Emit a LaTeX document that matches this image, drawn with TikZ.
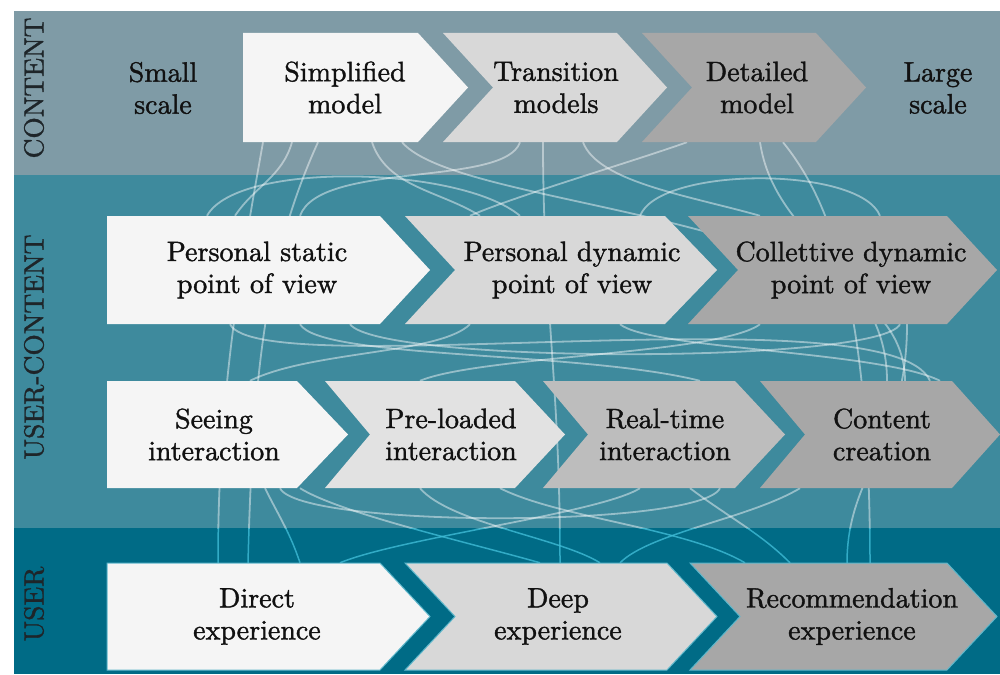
\documentclass[tikz,border=0pt]{standalone}
\usepackage{fontspec}
\newfontfamily\heavy{lmroman10-regular.otf}[FakeBold=1.3]
\pgfdeclarelayer{bandlayer}
\pgfdeclarelayer{curvelayer}
\pgfsetlayers{bandlayer,curvelayer,main}
\definecolor{bandA}{HTML}{7F9BA6}
\definecolor{bandB}{HTML}{3E8A9D}
\definecolor{bandC}{HTML}{006B86}
\definecolor{gA}{HTML}{F5F5F5}
\definecolor{gB}{HTML}{D8D8D8}
\definecolor{gC}{HTML}{E2E2E2}
\definecolor{gD}{HTML}{BDBDBD}
\definecolor{gE}{HTML}{A7A7A7}
\definecolor{txtc}{HTML}{111111}
\definecolor{sidec}{HTML}{1E2529}
\definecolor{cyanline}{HTML}{3FBCD6}
\definecolor{rimc}{HTML}{5DB6CA}
\tikzset{
  lbl/.style={text=txtc, align=center, font=\heavy\fontsize{28}{32}\selectfont, inner sep=0pt, minimum height=#1},
  lbl/.default=108pt,
  sidelbl/.style={rotate=90, text=sidec, font=\heavy\fontsize{27.5}{32}\selectfont, inner sep=0pt},
  curvew/.style={draw=white, draw opacity=0.45, line width=1.8pt},
  curvec/.style={draw=cyanline, draw opacity=0.8, line width=1.5pt},
  rim/.style={draw=rimc, line width=1pt}
}
\newcommand{\curveset}[1]{%
  \draw[#1] ([xshift=-82pt]simp.south) .. controls +(-25,140) and +(0,-160) .. ([xshift=-39pt]direct.north);
  \draw[#1] ([xshift=-27pt]simp.south) .. controls +(-50,110) and +(5,-200) .. ([xshift=-9pt]direct.north);
  \draw[#1] ([xshift=-53pt]simp.south) .. controls +(-10,35) and +(20,-30) .. ([xshift=-22pt]pstat.north);
  \draw[#1] ([xshift=27pt]simp.south) .. controls +(15,45) and +(-40,-25) .. ([xshift=-92pt]pdyn.north);
  \draw[#1] ([xshift=57pt]simp.south) .. controls +(60,70) and +(0,-170) .. ([xshift=23pt]ccreate.north);
  \draw[#1] ([xshift=-36pt]trans.south) .. controls +(-15,45) and +(20,-55) .. ([xshift=43pt]pstat.north);
  \draw[#1] ([xshift=-13pt]trans.south) .. controls +(0,160) and +(0,-180) .. ([xshift=2pt]deep.north);
  \draw[#1] ([xshift=27pt]trans.south) .. controls +(15,40) and +(-70,-20) .. ([xshift=-91pt]pcoll.north);
  \draw[#1] ([xshift=-70pt]detail.south) .. controls +(-50,18) and +(40,-18) .. ([xshift=-102pt]pdyn.north);
  \draw[#1] ([xshift=3pt]detail.south) .. controls +(15,100) and +(0,-110) .. ([xshift=5pt]ccreate.north);
  \draw[#1] ([xshift=26pt]detail.south) .. controls +(40,50) and +(0,-280) .. ([xshift=18pt]recomm.north);
  \draw[#1] ([xshift=56pt]pcoll.south) .. controls +(0,120) and +(0,-90) .. ([xshift=-5pt]recomm.north);
  \draw[#1] ([xshift=-27pt]pstat.south) .. controls +(30,60) and +(-40,-90) .. ([xshift=48pt]ccreate.north);
  \draw[#1] ([xshift=43pt]pstat.south) .. controls +(20,35) and +(-120,-30) .. ([xshift=35pt]realtime.north);
  \draw[#1] ([xshift=-102pt]pdyn.south) .. controls +(-30,30) and +(60,-30) .. ([xshift=36pt]seeing.north);
  \draw[#1] ([xshift=48pt]pdyn.south) .. controls +(30,25) and +(-60,-30) .. ([xshift=58pt]ccreate.north);
  \draw[#1] ([xshift=-91pt]pcoll.south) .. controls +(-40,30) and +(60,-25) .. ([xshift=-31pt]preload.north);
  \draw[#1] ([xshift=93pt]pstat.south) .. controls +(30,40) and +(-20,40) .. ([xshift=49pt]pcoll.south);
  \draw[#1] ([xshift=68pt]pdyn.north) .. controls +(20,-50) and +(-20,-50) .. ([xshift=29pt]pcoll.north);
  \draw[#1] ([xshift=-50pt]pstat.north) .. controls +(30,-55) and +(-60,-50) .. ([xshift=-52pt]pdyn.north);
  \draw[#1] ([xshift=86pt]seeing.south) .. controls +(40,25) and +(-70,-20) .. ([xshift=-18pt]deep.north);
  \draw[#1] ([xshift=-31pt]preload.south) .. controls +(30,35) and +(-40,-25) .. ([xshift=42pt]deep.north);
  \draw[#1] ([xshift=-25pt]realtime.south) .. controls +(-40,25) and +(60,-25) .. ([xshift=83pt]direct.north);
  \draw[#1] ([xshift=25pt]realtime.south) .. controls +(40,30) and +(-30,-30) .. ([xshift=-62pt]recomm.north);
  \draw[#1] ([xshift=-82pt]ccreate.south) .. controls +(-50,30) and +(30,-30) .. ([xshift=62pt]deep.north);
  \draw[#1] ([xshift=49pt]preload.south) .. controls +(60,30) and +(-60,-35) .. ([xshift=-107pt]recomm.north);
  \draw[#1] ([xshift=51pt]seeing.south) .. controls +(15,30) and +(-10,-30) .. ([xshift=43pt]direct.north);
  \draw[#1] ([xshift=66pt]seeing.south) .. controls +(20,40) and +(-20,40) .. ([xshift=55pt]realtime.south);
}
\begin{document}
\begin{tikzpicture}[x=1pt, y=-1pt]
\useasboundingbox (0,0) rectangle (1000,674);
\begin{pgfonlayer}{bandlayer}
  \fill[bandA] (14,11) rectangle (1000,175);
  \fill[bandB] (14,175) rectangle (1000,528);
  \fill[bandC] (14,528) rectangle (1000,674);
\end{pgfonlayer}
% side labels
\node[sidelbl] (lcontent) at (34,88) {CONTENT};
\node[sidelbl] (luc) at (34,347) {USER-CONTENT};
\node[sidelbl] (luser) at (34,604) {USER};
% row 1
\node[lbl] (small) at (163,88) {Small\\scale};
\node[lbl] (large) at (938,88) {Large\\scale};
\fill[gA] (243,33) -- (418,33) -- (468,87.5) -- (418,142) -- (243,142) -- cycle;
\node[lbl=109pt] (simp) at (345,87.5) {Simplified\\model};
\fill[gB] (443,33) -- (617,33) -- (667,87.5) -- (617,142) -- (443,142) -- (493,87.5) -- cycle;
\node[lbl=109pt] (trans) at (556,87.5) {Transition\\models};
\fill[gE] (642,33) -- (816,33) -- (866,87.5) -- (816,142) -- (642,142) -- (692,87.5) -- cycle;
\node[lbl=109pt] (detail) at (757,87.5) {Detailed\\model};
% row 2
\fill[gA] (107,216) -- (380,216) -- (430,270) -- (380,324) -- (107,324) -- cycle;
\node[lbl] (pstat) at (257,270) {Personal static\\point of view};
\fill[gB] (405,216) -- (665,216) -- (717,270) -- (665,324) -- (405,324) -- (455,270) -- cycle;
\node[lbl] (pdyn) at (572,270) {Personal dynamic\\point of view};
\fill[gE] (688,216) -- (947,216) -- (997,270) -- (947,324) -- (688,324) -- (738,270) -- cycle;
\node[lbl] (pcoll) at (851,270) {Collettive dynamic\\point of view};
% row 3
\fill[gA] (107,381) -- (297,381) -- (348,434.5) -- (297,488) -- (107,488) -- cycle;
\node[lbl=107pt] (seeing) at (214,434.5) {Seeing\\interaction};
\fill[gC] (325,381) -- (515,381) -- (565,434.5) -- (515,488) -- (325,488) -- (370,434.5) -- cycle;
\node[lbl=107pt] (preload) at (451,434.5) {Pre-loaded\\interaction};
\fill[gD] (543,381) -- (735,381) -- (785,434.5) -- (735,488) -- (543,488) -- (588,434.5) -- cycle;
\node[lbl=107pt] (realtime) at (665,434.5) {Real-time\\interaction};
\fill[gE] (760,381) -- (952,381) -- (1000,434.5) -- (952,488) -- (760,488) -- (805,434.5) -- cycle;
\node[lbl=107pt] (ccreate) at (882,434.5) {Content\\creation};
% row 4
\filldraw[fill=gA, rim] (107,563) -- (380,563) -- (430,616.5) -- (380,670) -- (107,670) -- cycle;
\node[lbl=107pt] (direct) at (257,616.5) {Direct\\experience};
\filldraw[fill=gB, rim] (405,563) -- (667,563) -- (717,616.5) -- (667,670) -- (405,670) -- (455,616.5) -- cycle;
\node[lbl=107pt] (deep) at (558,616.5) {Deep\\experience};
\filldraw[fill=gE, rim] (690,563) -- (947,563) -- (997,616.5) -- (947,670) -- (690,670) -- (740,616.5) -- cycle;
\node[lbl=107pt] (recomm) at (852,616.5) {Recommendation\\experience};
% connectors
\begin{pgfonlayer}{curvelayer}
  \begin{scope}
    \clip (0,0) rectangle (1000,528);
    \curveset{curvew}
  \end{scope}
  \begin{scope}
    \clip (0,528) rectangle (1000,674);
    \curveset{curvec}
  \end{scope}
\end{pgfonlayer}
\end{tikzpicture}
\end{document}
